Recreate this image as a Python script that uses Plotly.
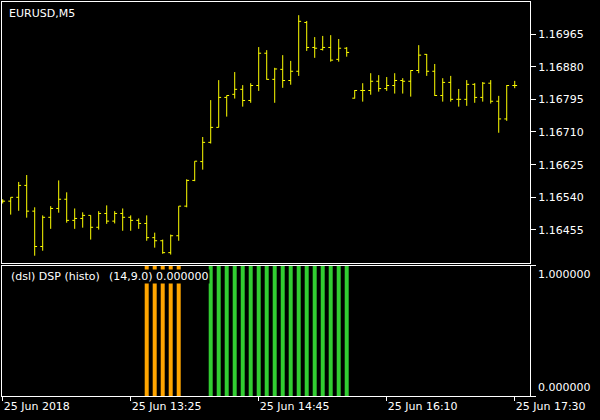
import plotly.graph_objects as go

# ---------------- data ----------------
bar_index = list(range(65))  # MT bar positions (5-minute bars, gaps compressed)

open_ = [1.16530, 1.16530, 1.16540, 1.16571, 1.16504, 1.16412, 1.16488, 1.16511, 1.16535, 1.16480,
         1.16485, 1.16493, 1.16462, 1.16498, 1.16478, 1.16498, 1.16488, 1.16480, 1.16472, 1.16435,
         1.16427, 1.16396, 1.16440, 1.16517, 1.16584, 1.16633, 1.16683, 1.16722, 1.16800, 1.16808,
         1.16821, 1.16792, 1.16831, 1.16915, 1.16847, 1.16873, 1.16844, 1.16868, 1.16995, 1.16930,
         1.16925, 1.16930, 1.16899, 1.16928, 1.16798, 1.16818, 1.16818, 1.16842, 1.16823, 1.16831,
         1.16844, 1.16842, 1.16870, 1.16912, 1.16868, 1.16805, 1.16839, 1.16795, 1.16795, 1.16834,
         1.16800, 1.16837, 1.16790, 1.16744, 1.16831]
high = [1.16535, 1.16540, 1.16580, 1.16598, 1.16514, 1.16493, 1.16517, 1.16584, 1.16553, 1.16511,
        1.16501, 1.16493, 1.16504, 1.16519, 1.16504, 1.16511, 1.16493, 1.16485, 1.16493, 1.16448,
        1.16430, 1.16443, 1.16517, 1.16587, 1.16634, 1.16697, 1.16793, 1.16845, 1.16805, 1.16866,
        1.16832, 1.16837, 1.16931, 1.16923, 1.16877, 1.16910, 1.16895, 1.17014, 1.16999, 1.16957,
        1.16960, 1.16962, 1.16952, 1.16931, 1.16819, 1.16837, 1.16863, 1.16858, 1.16853, 1.16863,
        1.16850, 1.16871, 1.16936, 1.16913, 1.16887, 1.16850, 1.16856, 1.16822, 1.16845, 1.16837,
        1.16840, 1.16845, 1.16804, 1.16832, 1.16843]
low = [1.16524, 1.16495, 1.16505, 1.16487, 1.16388, 1.16401, 1.16458, 1.16500, 1.16474, 1.16458,
       1.16461, 1.16430, 1.16456, 1.16471, 1.16472, 1.16453, 1.16453, 1.16458, 1.16427, 1.16409,
       1.16393, 1.16391, 1.16427, 1.16514, 1.16582, 1.16612, 1.16680, 1.16722, 1.16750, 1.16797,
       1.16776, 1.16786, 1.16817, 1.16846, 1.16786, 1.16825, 1.16833, 1.16856, 1.16921, 1.16903,
       1.16922, 1.16893, 1.16893, 1.16906, 1.16797, 1.16789, 1.16807, 1.16815, 1.16817, 1.16810,
       1.16810, 1.16802, 1.16863, 1.16856, 1.16804, 1.16789, 1.16789, 1.16776, 1.16778, 1.16786,
       1.16789, 1.16784, 1.16708, 1.16739, 1.16824]
close = [1.16530, 1.16540, 1.16571, 1.16504, 1.16412, 1.16488, 1.16511, 1.16535, 1.16480, 1.16485,
         1.16493, 1.16462, 1.16498, 1.16478, 1.16498, 1.16488, 1.16480, 1.16472, 1.16435, 1.16427,
         1.16396, 1.16440, 1.16517, 1.16584, 1.16634, 1.16683, 1.16722, 1.16800, 1.16805, 1.16821,
         1.16792, 1.16831, 1.16915, 1.16847, 1.16874, 1.16844, 1.16868, 1.16998, 1.16930, 1.16928,
         1.16930, 1.16897, 1.16928, 1.16917, 1.16818, 1.16818, 1.16842, 1.16823, 1.16831, 1.16844,
         1.16842, 1.16870, 1.16910, 1.16868, 1.16805, 1.16839, 1.16795, 1.16795, 1.16834, 1.16800,
         1.16837, 1.16790, 1.16744, 1.16831, 1.16831]

# DSP histogram buffers (1 = active state)
dsp_down = [0, 0, 0, 0, 0, 0, 0, 0, 0, 0, 0, 0, 0, 0, 0, 0, 0, 0, 1, 1,
            1, 1, 1, 0, 0, 0, 0, 0, 0, 0, 0, 0, 0, 0, 0, 0, 0, 0, 0, 0,
            0, 0, 0, 0, 0, 0, 0, 0, 0, 0, 0, 0, 0, 0, 0, 0, 0, 0, 0, 0,
            0, 0, 0, 0, 0]
dsp_up = [0, 0, 0, 0, 0, 0, 0, 0, 0, 0, 0, 0, 0, 0, 0, 0, 0, 0, 0, 0,
          0, 0, 0, 0, 0, 0, 1, 1, 1, 1, 1, 1, 1, 1, 1, 1, 1, 1, 1, 1,
          1, 1, 1, 1, 0, 0, 0, 0, 0, 0, 0, 0, 0, 0, 0, 0, 0, 0, 0, 0,
          0, 0, 0, 0, 0]

price_ticks = [1.16455, 1.16540, 1.16625, 1.16710, 1.16795, 1.16880, 1.16965]
time_tick_pos = [0, 16, 32, 48, 64]
time_tick_labels = ["25 Jun 2018", "25 Jun 13:25", "25 Jun 14:45", "25 Jun 16:10", "25 Jun 17:30"]
dsp_ticks = [0.0, 1.0]
dsp_tick_labels = ["0.000000", "1.000000"]

symbol_label = "EURUSD,M5"
indicator_label = "(dsl) DSP (histo)\u00a0\u00a0\u2009(14,9.0) 0.000000"

# ---------------- figure ----------------
FONT = "DejaVu Sans"
WHITE = "#FFFFFF"
x_range = [-0.0875, 65.91]

fig = go.Figure()
fig.add_trace(go.Ohlc(
    x=bar_index, open=open_, high=high, low=low, close=close,
    increasing=dict(line=dict(color="#FFFF00", width=1)),
    decreasing=dict(line=dict(color="#FFFF00", width=1)),
    tickwidth=0.3, xaxis="x", yaxis="y", showlegend=False, hoverinfo="skip",
))
fig.add_trace(go.Bar(
    x=bar_index, y=dsp_down, width=0.5, marker=dict(color="#FFA500", line=dict(width=0)),
    xaxis="x2", yaxis="y2", showlegend=False, hoverinfo="skip",
))
fig.add_trace(go.Bar(
    x=bar_index, y=dsp_up, width=0.5, marker=dict(color="#32CD32", line=dict(width=0)),
    xaxis="x2", yaxis="y2", showlegend=False, hoverinfo="skip",
))

axis_common = dict(showline=True, mirror=True, linecolor=WHITE, linewidth=1,
                   showgrid=False, zeroline=False)

fig.update_layout(
    width=600, height=420,
    margin=dict(l=2, r=70, t=2, b=24),
    paper_bgcolor="#000000", plot_bgcolor="#000000",
    font=dict(family=FONT, size=11, color=WHITE),
    barmode="overlay",
    hovermode=False,
    xaxis=dict(domain=[0, 1], anchor="y", range=x_range, showticklabels=False, ticks="",
               rangeslider=dict(visible=False), **axis_common),
    yaxis=dict(domain=[0.3376, 1], anchor="x", side="right", range=[1.163691, 1.170483],
               tickmode="array", tickvals=price_ticks,
               ticktext=[f"{v:.5f}" for v in price_ticks],
               ticks="outside", ticklen=5, tickcolor=WHITE, tickwidth=1,
               tickfont=dict(family=FONT, size=11, color=WHITE), **axis_common),
    xaxis2=dict(domain=[0, 1], anchor="y2", range=x_range, matches="x",
                tickmode="array", tickvals=time_tick_pos, ticktext=time_tick_labels,
                ticks="outside", ticklen=4, tickcolor=WHITE, tickwidth=1,
                ticklabelposition="outside right", ticklabeloverflow="allow",
                tickfont=dict(family=FONT, size=11, color=WHITE), **axis_common),
    yaxis2=dict(domain=[0, 0.33], anchor="x2", side="right", range=[0, 1],
                tickmode="array", tickvals=dsp_ticks, showticklabels=False,
                ticks="outside", ticklen=5, tickcolor=WHITE, tickwidth=1, **axis_common),
)

annotations = [
    dict(text=symbol_label, xref="paper", x=0, xanchor="left", xshift=5,
         yref="y domain", y=1, yanchor="top", yshift=-3, showarrow=False,
         font=dict(family=FONT, size=11, color=WHITE)),
    dict(text=indicator_label, xref="paper", x=0, xanchor="left", xshift=8,
         yref="y2 domain", y=1, yanchor="top", yshift=-3, showarrow=False,
         bgcolor="#000000", borderpad=0,
         font=dict(family=FONT, size=11, color=WHITE)),
]
for v, lab in zip(dsp_ticks, dsp_tick_labels):
    annotations.append(dict(text=lab, xref="paper", x=1, xanchor="left", xshift=6,
                            yref="y2", y=v, yanchor="bottom" if v == 0 else "top",
                            showarrow=False, font=dict(family=FONT, size=11, color=WHITE)))
fig.update_layout(annotations=annotations)

fig.write_html("out.html", config={"displayModeBar": False, "staticPlot": True},
               post_script="document.body.style.margin='0px';"
                           "document.body.style.background='#000000';")
